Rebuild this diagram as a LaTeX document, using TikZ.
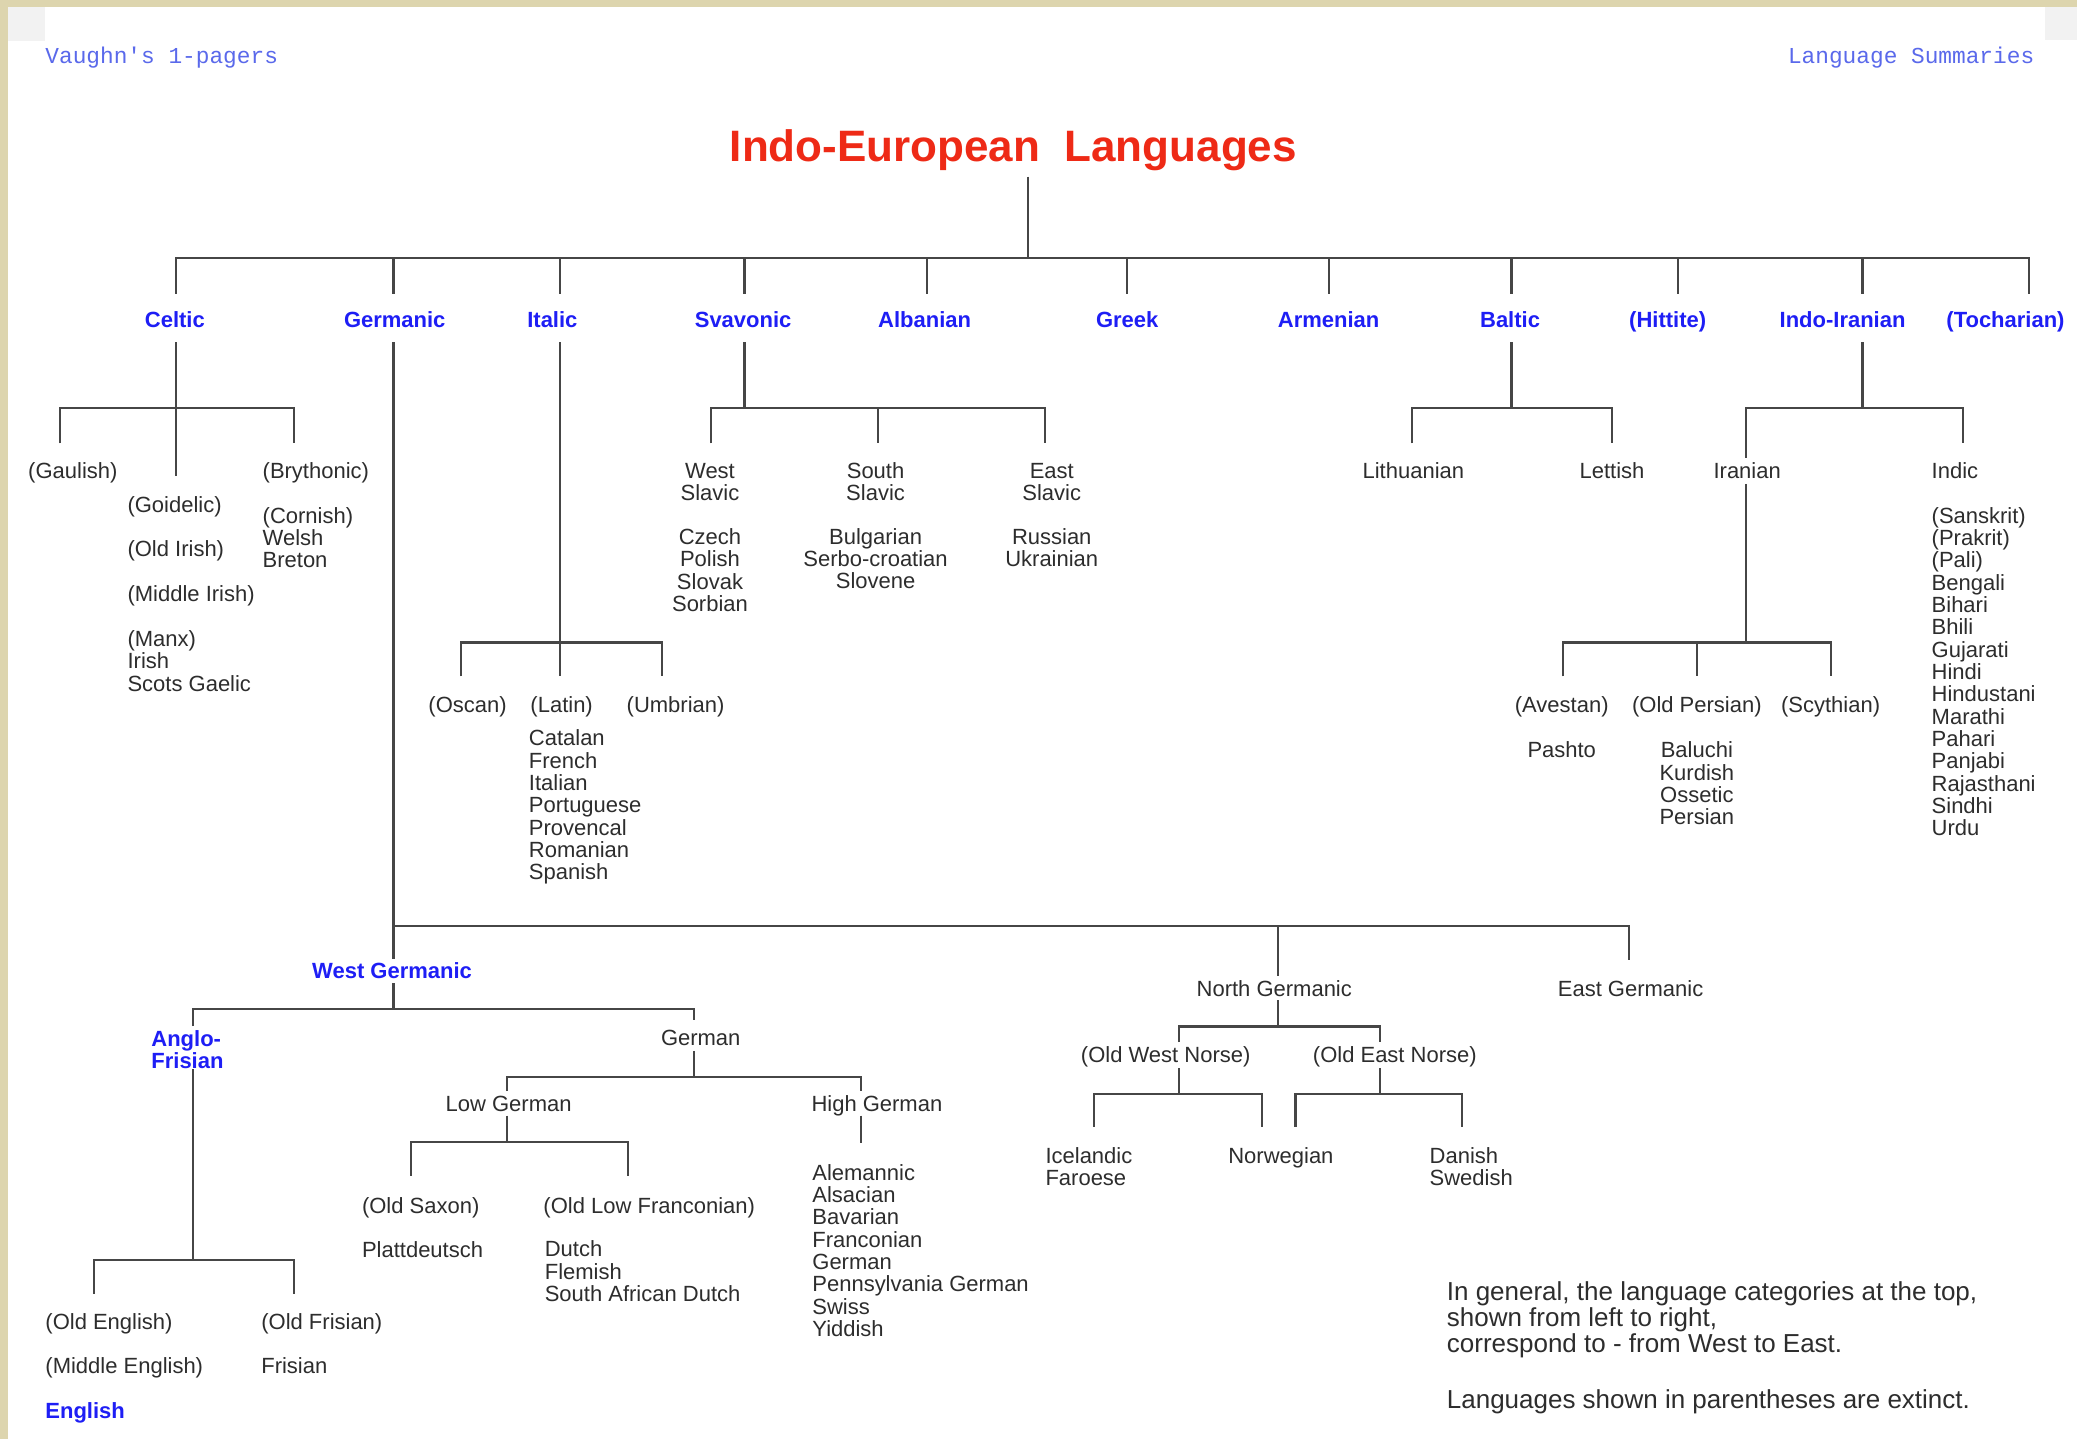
\documentclass[tikz,border=0pt]{standalone}
\usepackage{fontspec}
\setmainfont{Liberation Sans}
\newfontfamily\hdrfont{Liberation Mono}
\definecolor{linec}{RGB}{70,70,70}
\definecolor{txtc}{RGB}{45,45,45}
\definecolor{catblue}{RGB}{30,30,245}
\definecolor{headblue}{RGB}{90,105,235}
\definecolor{titlered}{RGB}{238,42,22}
\definecolor{beige}{RGB}{221,213,174}
\newcommand{\labfont}{\fontsize{11}{11.17}\selectfont}
\newcommand{\catfont}{\fontsize{11}{11.17}\selectfont\bfseries}
\newcommand{\notefont}{\fontsize{13}{12.9}\selectfont}
\tikzset{
  ln/.style={draw=linec, line width=1.1pt},
  lab/.style={font=\labfont, text=txtc, inner sep=0pt, anchor=base, align=center},
  labw/.style={font=\labfont, text=txtc, inner sep=0pt, anchor=base west, align=left},
  cat/.style={font=\catfont, text=catblue, inner sep=0pt, anchor=base, align=center},
  catw/.style={cat, anchor=base west, align=left},
  th/.style={text height=#1},
  td/.style={text depth=#1},
}
\begin{document}
\begin{tikzpicture}[x=0.6625pt, y=-0.6625pt]
\fill[white] (0,0) rectangle (1568,1086);
\useasboundingbox (0,0) rectangle (1568,1086);
\fill[beige] (0,0) rectangle (1568,5);
\fill[beige] (0,0) rectangle (6,1086);
\fill[black!5] (6,5) rectangle (34,31);
\fill[black!5] (1544,5) rectangle (1568,30);

% header
\node[font=\hdrfont\fontsize{11.4}{12}\selectfont, text=headblue, inner sep=0pt, anchor=base west] (hdrl) at (34,48) {Vaughn's 1-pagers};
\node[font=\hdrfont\fontsize{11.4}{12}\selectfont, text=headblue, inner sep=0pt, anchor=base east] (hdrr) at (1536,48) {Language Summaries};

% title
\node[font=\fontsize{22}{26}\selectfont\bfseries, text=titlered, inner sep=0pt, anchor=base, text depth=7.3pt] (title) at (765,122) {Indo-European~~Languages};

% categories
\node[cat, th=16.56pt, td=7.29pt] (celtic) at (132,247) {Celtic};
\node[cat, th=16.56pt, td=7.29pt] (germanic) at (298,247) {Germanic};
\node[cat, th=16.56pt, td=7.29pt] (italic) at (417,247) {Italic};
\node[cat, th=16.56pt, td=7.29pt] (svavonic) at (561,247) {Svavonic};
\node[cat, th=16.56pt, td=7.29pt] (albanian) at (698,247) {Albanian};
\node[cat, th=16.56pt, td=7.29pt] (greek) at (851,247) {Greek};
\node[cat, th=16.56pt, td=7.29pt] (armenian) at (1003,247) {Armenian};
\node[cat, th=16.56pt, td=7.29pt] (baltic) at (1140,247) {Baltic};
\node[cat, th=16.56pt, td=7.29pt] (hittite) at (1259,247) {(Hittite)};
\node[cat, th=16.56pt, td=7.29pt] (indoiranian) at (1391,247) {Indo-Iranian};
\node[cat, th=16.56pt, td=7.29pt] (tocharian) at (1514,247) {(Tocharian)};

\coordinate (tstem) at (776,195);
\coordinate (tb-celtic) at (133,195);
\coordinate (tb-germanic) at (297,195);
\coordinate (tb-italic) at (423,195);
\coordinate (tb-svavonic) at (562,195);
\coordinate (tb-albanian) at (700,195);
\coordinate (tb-greek) at (851,195);
\coordinate (tb-armenian) at (1003,195);
\coordinate (tb-baltic) at (1141,195);
\coordinate (tb-hittite) at (1267,195);
\coordinate (tb-indoiranian) at (1406,195);
\coordinate (tb-tocharian) at (1532,195);

\draw[ln] (tstem |- title.south) -- (tstem);
\draw[ln] (tb-celtic |- celtic.north) -- (tb-celtic) -- (tb-tocharian) -- (tb-tocharian |- tocharian.north);
\foreach \n in {germanic,italic,svavonic,albanian,greek,armenian,baltic,hittite,indoiranian}
  \draw[ln] (tb-\n) -- (tb-\n |- \n.north);

% ---------- Celtic
\node[lab, th=17.23pt] (gaulish) at (55,361) {(Gaulish)};
\node[labw, th=17.23pt] (brythonic) at (198,361) {(Brythonic)};
\node[labw, th=17.89pt] (goidelic) at (96,387) {(Goidelic)};
\node[labw] (oldirish) at (96,420) {(Old Irish)};
\node[labw] (middleirish) at (96,454) {(Middle Irish)};
\node[labw] (manx) at (96,521.7) {(Manx)\\Irish\\Scots Gaelic};
\node[labw] (cornish) at (198,428.7) {(Cornish)\\Welsh\\Breton};
\coordinate (cb-l) at (45,308);
\coordinate (cb-r) at (222,308);
\draw[ln] (cb-l |- gaulish.north) -- (cb-l) -- (cb-r) -- (cb-r |- brythonic.north);
\draw[ln] (tb-celtic |- celtic.south) -- (tb-celtic |- goidelic.north);

% ---------- Italic
\node[lab, th=17.89pt] (oscan) at (353,538) {(Oscan)};
\node[lab, th=17.89pt] (latin) at (424,538) {(Latin)};
\node[lab, th=17.89pt] (umbrian) at (510,538) {(Umbrian)};
\node[labw] (latinlist) at (399,664.2) {Catalan\\French\\Italian\\Portuguese\\Provencal\\Romanian\\Spanish};
\coordinate (ib-l) at (348,485);
\coordinate (ib-r) at (500,485);
\draw[ln] (tb-italic |- italic.south) -- (tb-italic |- latin.north);
\draw[ln] (ib-l |- oscan.north) -- (ib-l) -- (ib-r) -- (ib-r |- umbrian.north);

% ---------- Svavonic
\node[lab, th=28.39pt] (westslavic) at (536,377.9) {West\\Slavic};
\node[lab] (westslaviclist) at (536,461.6) {Czech\\Polish\\Slovak\\Sorbian};
\node[lab, th=28.39pt] (southslavic) at (661,377.9) {South\\Slavic};
\node[lab] (southslaviclist) at (661,444.6) {Bulgarian\\Serbo-croatian\\Slovene};
\node[lab, th=28.39pt] (eastslavic) at (794,377.9) {East\\Slavic};
\node[lab] (eastslaviclist) at (794,427.9) {Russian\\Ukrainian};
\coordinate (sb-l) at (537,308);
\coordinate (sb-m) at (663,308);
\coordinate (sb-r) at (789,308);
\draw[ln] (tb-svavonic |- svavonic.south) -- (tb-svavonic |- sb-l);
\draw[ln] (sb-l |- westslavic.north) -- (sb-l) -- (sb-r) -- (sb-r |- eastslavic.north);
\draw[ln] (sb-m) -- (sb-m |- southslavic.north);

% ---------- Baltic
\node[lab, th=17.23pt] (lithuanian) at (1067,361) {Lithuanian};
\node[lab, th=17.23pt] (lettish) at (1217,361) {Lettish};
\coordinate (bb-l) at (1066,308);
\coordinate (bb-r) at (1217,308);
\draw[ln] (tb-baltic |- baltic.south) -- (tb-baltic |- bb-l);
\draw[ln] (bb-l |- lithuanian.north) -- (bb-l) -- (bb-r) -- (bb-r |- lettish.north);

% ---------- Indo-Iranian
\node[lab, th=9.94pt, td=2.65pt] (iranian) at (1319,361) {Iranian};
\node[labw, th=17.23pt] (indic) at (1458,361) {Indic};
\node[labw] (indiclist) at (1458,631) {(Sanskrit)\\(Prakrit)\\(Pali)\\Bengali\\Bihari\\Bhili\\Gujarati\\Hindi\\Hindustani\\Marathi\\Pahari\\Panjabi\\Rajasthani\\Sindhi\\Urdu};
\coordinate (iib-l) at (1318,308);
\coordinate (iib-r) at (1482,308);
\draw[ln] (tb-indoiranian |- indoiranian.south) -- (tb-indoiranian |- iib-l);
\draw[ln] (iib-l |- iranian.north) -- (iib-l) -- (iib-r) -- (iib-r |- indic.north);
\node[lab, th=17.89pt] (avestan) at (1179,538) {(Avestan)};
\node[lab, th=17.89pt] (oldpersian) at (1281,538) {(Old Persian)};
\node[lab, th=17.89pt] (scythian) at (1382,538) {(Scythian)};
\node[lab] (pashto) at (1179,572) {Pashto};
\node[lab] (persianlist) at (1281,622.6) {Baluchi\\Kurdish\\Ossetic\\Persian};
\coordinate (irb-l) at (1180,485);
\coordinate (irb-m) at (1281,485);
\coordinate (irb-r) at (1382,485);
\draw[ln] (iib-l |- iranian.south) -- (iib-l |- irb-l);
\draw[ln] (irb-l |- avestan.north) -- (irb-l) -- (irb-r) -- (irb-r |- scythian.north);
\draw[ln] (irb-m) -- (irb-m |- oldpersian.north);

% ---------- Germanic
\node[cat, th=9.94pt, td=1.99pt] (westg) at (296,739) {West Germanic};
\node[lab, th=9.94pt, td=1.99pt] (northg) at (962,752) {North Germanic};
\node[lab, th=17.89pt] (eastg) at (1231,752) {East Germanic};
\coordinate (gb-l) at (297,699);
\coordinate (gb-n) at (965,699);
\coordinate (gb-r) at (1230,699);
\draw[ln] (tb-germanic |- germanic.south) -- (gb-l) -- (gb-r) -- (gb-r |- eastg.north);
\draw[ln] (gb-l) -- (gb-l |- westg.north);
\draw[ln] (gb-n) -- (gb-n |- northg.north);

% West Germanic
\node[catw, th=21.11pt] (anglofrisian) at (114,806.9) {Anglo-\\Frisian};
\node[lab, th=12.59pt, td=2.65pt] (german) at (529,789) {German};
\coordinate (wgb) at (297,762);
\coordinate (wgb-l) at (146,762);
\coordinate (wgb-r) at (524,762);
\draw[ln] (wgb |- westg.south) -- (wgb);
\draw[ln] (wgb-l |- anglofrisian.north) -- (wgb-l) -- (wgb-r) -- (wgb-r |- german.north);

% Anglo-Frisian
\node[labw, th=17.89pt] (oldenglish) at (34,1004) {(Old English)};
\node[labw] (middleenglish) at (34,1037) {(Middle English)};
\node[catw] (english) at (34,1071) {English};
\node[labw, th=17.89pt] (oldfrisian) at (197,1004) {(Old Frisian)};
\node[labw] (frisian) at (197,1037) {Frisian};
\coordinate (afb) at (146,951);
\coordinate (afb-l) at (71,951);
\coordinate (afb-r) at (222,951);
\draw[ln] (afb |- anglofrisian.south) -- (afb);
\draw[ln] (afb-l |- oldenglish.north) -- (afb-l) -- (afb-r) -- (afb-r |- oldfrisian.north);

% German
\node[lab, th=9.94pt, td=1.99pt] (lowgerman) at (384,839) {Low German};
\node[lab, th=9.94pt, td=1.99pt] (highgerman) at (662,839) {High German};
\coordinate (grb) at (524,813);
\coordinate (grb-l) at (383,813);
\coordinate (grb-r) at (650,813);
\draw[ln] (grb |- german.south) -- (grb);
\draw[ln] (grb-l |- lowgerman.north) -- (grb-l) -- (grb-r) -- (grb-r |- highgerman.north);

\node[labw, th=18.55pt] (oldsaxon) at (273,916) {(Old Saxon)};
\node[labw] (plattdeutsch) at (273,949) {Plattdeutsch};
\node[labw, th=18.55pt] (oldlowfranc) at (410,916) {(Old Low Franconian)};
\node[labw] (dutch) at (411,982.6) {Dutch\\Flemish\\South African Dutch};
\coordinate (lgb) at (383,862);
\coordinate (lgb-l) at (310,862);
\coordinate (lgb-r) at (474,862);
\draw[ln] (lgb |- lowgerman.south) -- (lgb);
\draw[ln] (lgb-l |- oldsaxon.north) -- (lgb-l) -- (lgb-r) -- (lgb-r |- oldlowfranc.north);

\node[labw, th=96.74pt] (hglist) at (613,1009) {Alemannic\\Alsacian\\Bavarian\\Franconian\\German\\Pennsylvania German\\Swiss\\Yiddish};
\draw[ln] (grb-r |- highgerman.south) -- (grb-r |- hglist.north);

% North Germanic
\node[lab, th=9.94pt, td=2.65pt] (oldwestnorse) at (880,802) {(Old West Norse)};
\node[lab, th=9.94pt, td=2.65pt] (oldeastnorse) at (1053,802) {(Old East Norse)};
\coordinate (ngb) at (965,775);
\coordinate (ngb-l) at (890,775);
\coordinate (ngb-r) at (1042,775);
\draw[ln] (ngb |- northg.south) -- (ngb);
\draw[ln] (ngb-l |- oldwestnorse.north) -- (ngb-l) -- (ngb-r) -- (ngb-r |- oldeastnorse.north);

\node[labw, th=29.06pt] (icelandic) at (789,894.9) {Icelandic\\Faroese};
\node[lab, th=17.89pt] (norwegian) at (967,878) {Norwegian};
\node[labw, th=29.06pt] (danish) at (1079,894.9) {Danish\\Swedish};
\coordinate (ownb-l) at (826,826);
\coordinate (ownb-r) at (953,826);
\coordinate (oenb-l) at (978,826);
\coordinate (oenb-r) at (1104,826);
\draw[ln] (ngb-l |- oldwestnorse.south) -- (ngb-l |- ownb-l);
\draw[ln] (ownb-l |- icelandic.north) -- (ownb-l) -- (ownb-r) -- (ownb-r |- norwegian.north);
\draw[ln] (ngb-r |- oldeastnorse.south) -- (ngb-r |- oenb-l);
\draw[ln] (oenb-l |- norwegian.north) -- (oenb-l) -- (oenb-r) -- (oenb-r |- danish.north);

% footnote
\node[labw, font=\notefont] (note1) at (1092,1020.9) {In general, the language categories at the top,\\shown from left to right,\\correspond to - from West to East.};
\node[labw, font=\notefont] (note2) at (1092,1063) {Languages shown in parentheses are extinct.};
\end{tikzpicture}
\end{document}
